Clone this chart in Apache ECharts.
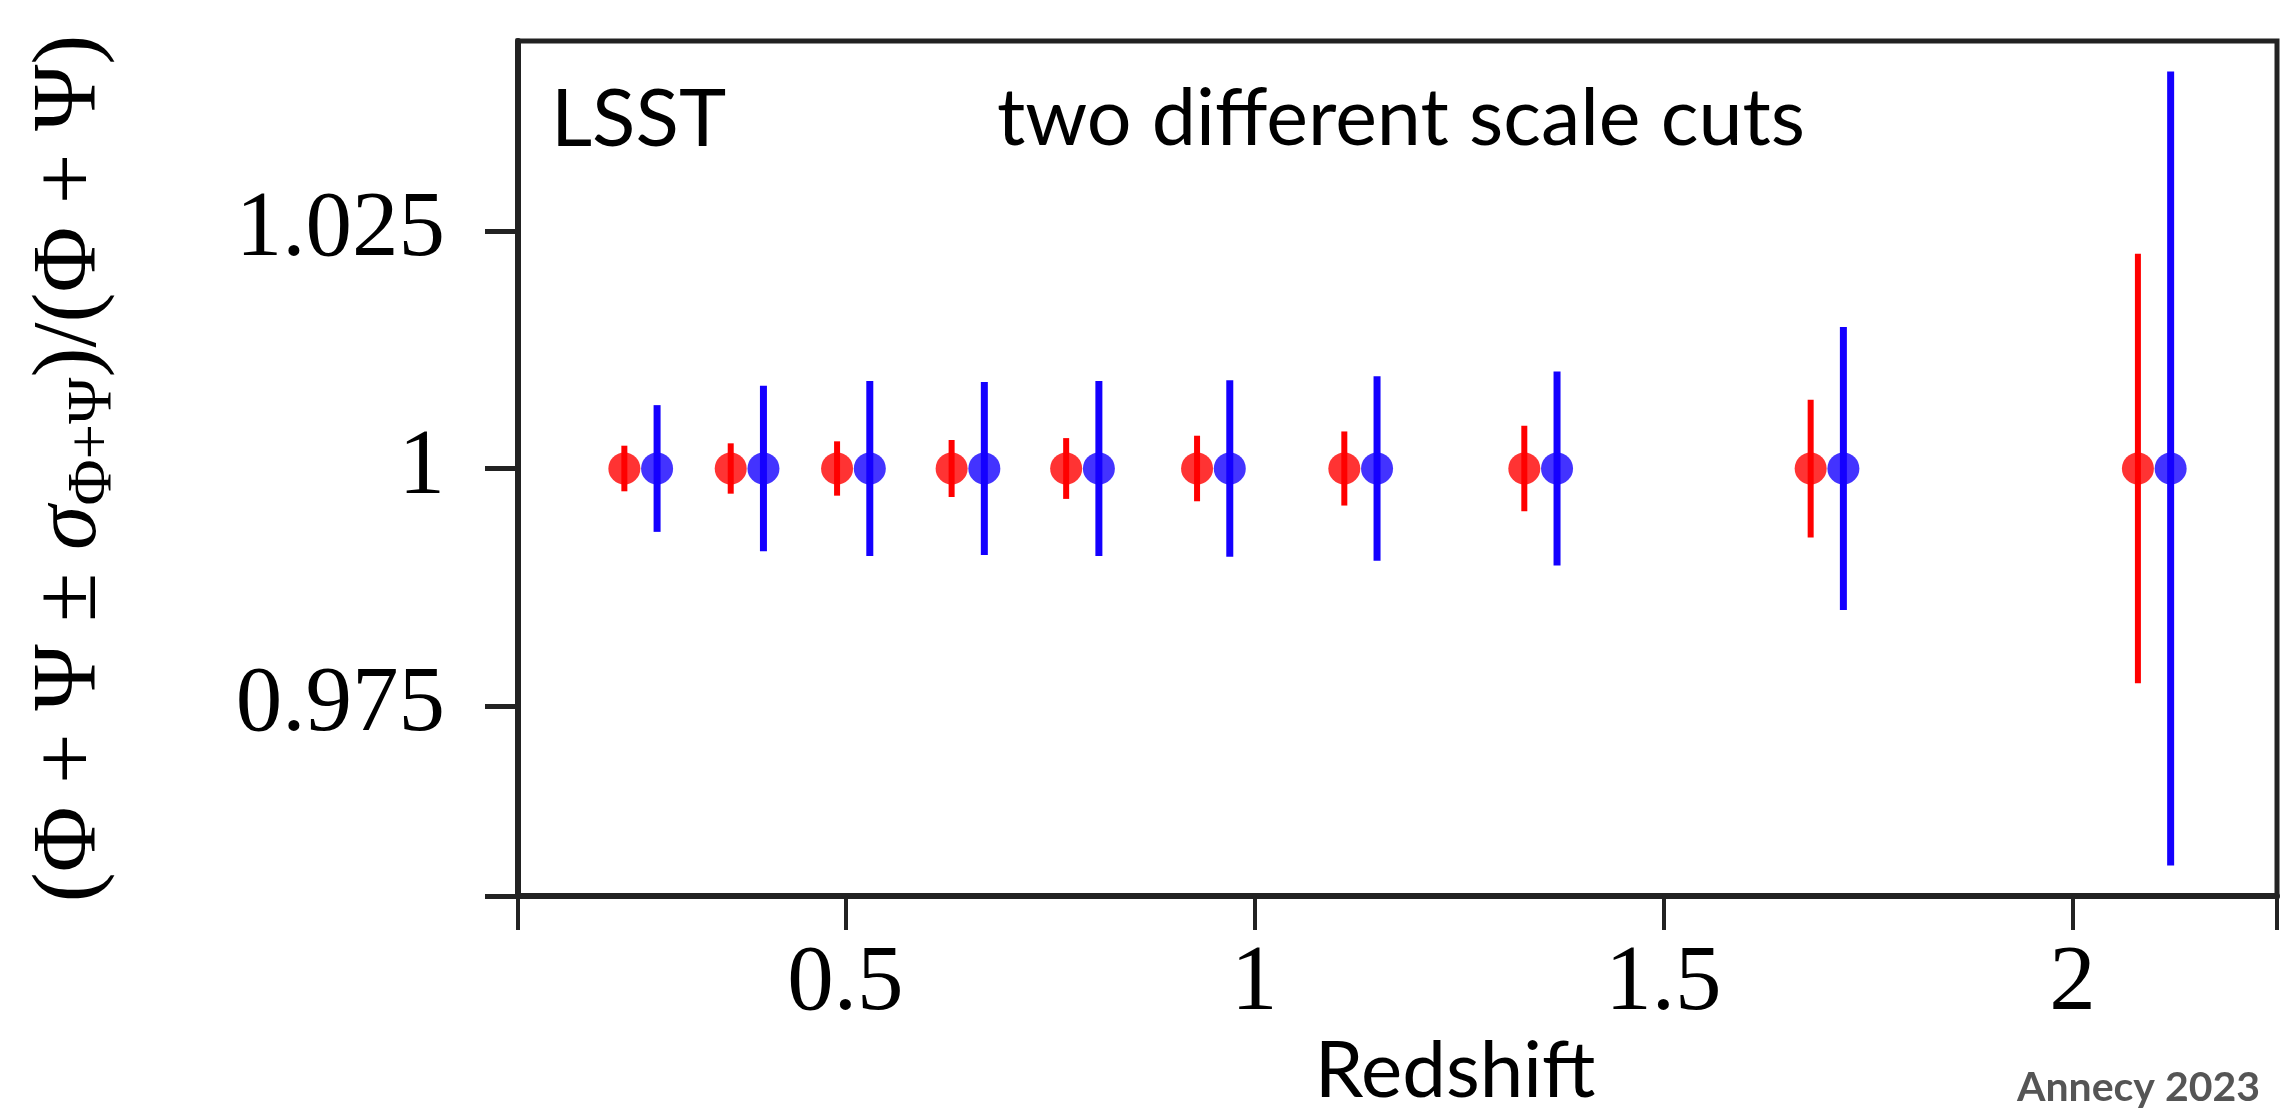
<!DOCTYPE html>
<html>
<head>
<meta charset="utf-8">
<script src="https://cdn.jsdelivr.net/npm/echarts@6/dist/echarts.min.js"></script>
<style>
html,body{margin:0;padding:0;background:#fff;}
#chart{width:2282px;height:1109px;}
</style>
</head>
<body>
<div id="chart"></div>
<script>
// Redshift positions (red = first scale cut, blue = second scale cut)
const redZ  = [0.23, 0.36, 0.49, 0.63, 0.77, 0.93, 1.11, 1.33, 1.68, 2.08];
const blueZ = [0.27, 0.40, 0.53, 0.67, 0.81, 0.97, 1.15, 1.37, 1.72, 2.12];
// central values
const redVal  = [1, 1, 1, 1, 1, 1, 1, 1, 1, 1];
const blueVal = [1, 1, 1, 1, 1, 1, 1, 1, 1, 1];
// 1-sigma relative errors
const redErr  = [0.0024, 0.00265, 0.00286, 0.0030, 0.0032, 0.00345, 0.0039, 0.0045, 0.00725, 0.0226];
const blueErr = [0.00667, 0.0087, 0.0092, 0.0091, 0.0092, 0.0093, 0.0097, 0.0102, 0.0149, 0.0418];
// axis ticks
const xTicks = [0.1, 0.5, 1, 1.5, 2, 2.25];
const xLabels = [0.5, 1, 1.5, 2];
const yTicks = [0.955, 0.975, 1, 1.025];
const yLabels = [0.975, 1, 1.025];

const RED = '#ff0000', BLUE = '#1400ff';
const serif = 'Liberation Serif';

function barData(xs, vs, es) {
  return xs.map((x, i) => [x, vs[i] - es[i], vs[i] + es[i]]);
}
function ptData(xs, vs) {
  return xs.map((x, i) => [x, vs[i]]);
}
function errSeries(data, color, w) {
  return {
    type: 'custom',
    data: data,
    encode: {x: 0, y: [1, 2]},
    renderItem: function (params, api) {
      const x = api.value(0);
      const p1 = api.coord([x, api.value(1)]);
      const p2 = api.coord([x, api.value(2)]);
      return {
        type: 'line',
        shape: {x1: p1[0], y1: p1[1], x2: p2[0], y2: p2[1]},
        style: {stroke: color, lineWidth: w, lineCap: 'butt'}
      };
    },
    silent: true
  };
}

const chart = echarts.init(document.getElementById('chart'));
chart.setOption({
  animation: false,
  backgroundColor: '#fff',
  grid: {left: 518, right: 5, top: 41, bottom: 213, show: true, borderColor: '#222', borderWidth: 5,
         containLabel: false, outerBoundsMode: 'none'},
  xAxis: {
    type: 'value', min: 0.1, max: 2.25,
    name: 'Redshift', nameLocation: 'middle', nameGap: 137, nameMoveOverlap: false,
    nameTextStyle: {fontFamily: 'Lato', fontSize: 78, color: '#000', padding: [0, 0, 0, 115]},
    axisLine: {show: true, onZero: false, lineStyle: {color: '#222', width: 6}},
    axisTick: {show: true, length: 34, customValues: xTicks, lineStyle: {color: '#222', width: 4}},
    axisLabel: {show: true, customValues: xLabels, margin: 42, fontFamily: serif, fontSize: 93, color: '#000',
      formatter: v => String(v)},
    splitLine: {show: false}
  },
  yAxis: {
    type: 'value', min: 0.955, max: 1.045,
    name: '(Φ + Ψ ± {s|σ}{sub|Φ+Ψ})/(Φ + Ψ)',
    nameLocation: 'middle', nameRotate: 90, nameGap: 392, nameMoveOverlap: false,
    nameTextStyle: {
      fontFamily: serif, fontSize: 90, color: '#000', lineHeight: 110,
      rich: {
        s: {fontFamily: serif, fontSize: 90, fontStyle: 'italic', color: '#000', lineHeight: 110},
        sub: {fontFamily: serif, fontSize: 63, color: '#000', lineHeight: 72, verticalAlign: 'bottom'}
      }
    },
    axisLine: {show: true, onZero: false, lineStyle: {color: '#222', width: 6}},
    axisTick: {show: true, length: 33, customValues: yTicks, lineStyle: {color: '#222', width: 5}},
    axisLabel: {show: true, customValues: yLabels, margin: 73, fontFamily: serif, fontSize: 93, color: '#000',
      formatter: v => (Math.abs(v - 1) < 1e-9 ? '1' : v.toFixed(3))},
    splitLine: {show: false}
  },
  graphic: [
    {type: 'text', left: 551, top: 80, style: {text: 'LSST', font: '80px Lato', fill: '#000'}},
    {type: 'text', left: 997, top: 80, style: {text: 'two different scale cuts', font: '79px Lato', fill: '#000'}},
    {type: 'text', right: 22, top: 1067, style: {text: 'Annecy 2023', font: 'bold 41px Lato', fill: '#555'}}
  ],
  series: [
    errSeries(barData(redZ, redVal, redErr), RED, 6),
    {type: 'scatter', data: ptData(redZ, redVal), symbol: 'circle', symbolSize: 32, itemStyle: {color: RED}, silent: true},
    errSeries(barData(blueZ, blueVal, blueErr), BLUE, 7),
    {type: 'scatter', data: ptData(blueZ, blueVal), symbol: 'circle', symbolSize: 32, itemStyle: {color: BLUE}, silent: true}
  ]
});
</script>
</body>
</html>
